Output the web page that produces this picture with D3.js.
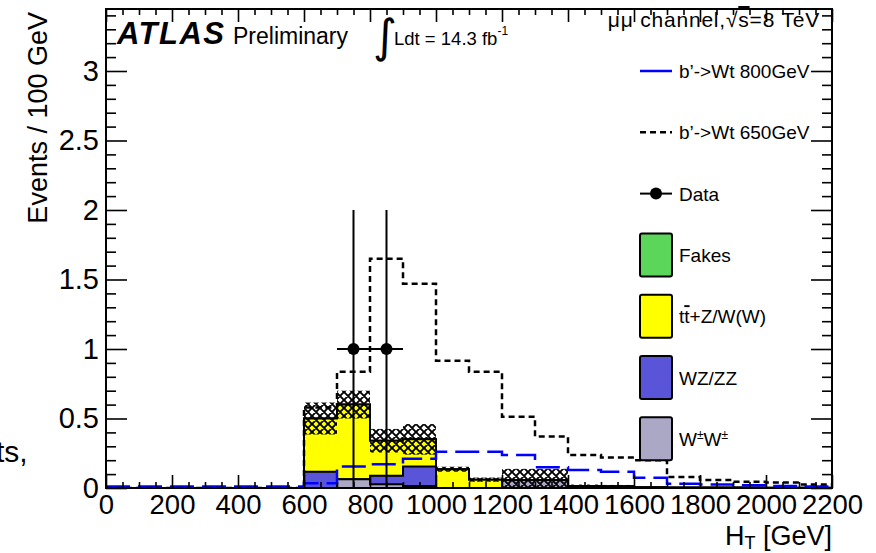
<!DOCTYPE html>
<html>
<head>
<meta charset="utf-8">
<script src="https://cdn.jsdelivr.net/npm/d3@7"></script>
<style>
  html, body { margin: 0; padding: 0; background: #ffffff; }
  svg { display: block; font-family: "Liberation Sans", Arial, Helvetica, sans-serif; }
</style>
</head>
<body>
<svg id="chart" width="876" height="553"></svg>
<script>
// H_T distribution, mu-mu channel: 100 GeV bins from 0 to 2200 GeV
const binLow = [0, 100, 200, 300, 400, 500, 600, 700, 800, 900, 1000,
                1100, 1200, 1300, 1400, 1500, 1600, 1700, 1800, 1900, 2000, 2100];
const binWidth = 100;

// Background components (events / 100 GeV), stacked bottom to top
const wpmwpm = [0, 0, 0, 0, 0, 0, 0, 0.063, 0.027, 0.015, 0,
                0, 0.058, 0.058, 0, 0, 0, 0, 0, 0, 0, 0];
const wzzz   = [0, 0, 0, 0, 0, 0, 0.117, 0, 0.061, 0.14, 0,
                0, 0, 0, 0, 0, 0, 0, 0, 0, 0, 0];
const ttbarV = [0, 0, 0, 0, 0, 0, 0.383, 0.537, 0.252, 0.195, 0.135,
                0.06, 0, 0, 0.015, 0.012, 0.005, 0.004, 0.003, 0.003, 0.002, 0.002];
const fakes  = [0, 0, 0, 0, 0, 0, 0, 0, 0, 0, 0,
                0, 0, 0, 0, 0, 0, 0, 0, 0, 0, 0];
// Total background uncertainty (half width of the band)
const bkgUnc = [0, 0, 0, 0, 0, 0, 0.115, 0.10, 0.085, 0.11, 0.018,
                0.015, 0.08, 0.08, 0.01, 0.01, 0.005, 0.004, 0.003, 0.003, 0.002, 0.002];

// Signal hypotheses
const sig800 = [0.01, 0.01, 0.01, 0.01, 0.01, 0.01, 0.035, 0.155, 0.17, 0.21, 0.26,
                0.26, 0.237, 0.149, 0.13, 0.117, 0.074, 0.03, 0.025, 0.02, 0.015, 0.01];
const sig650 = [0, 0, 0, 0, 0, 0, 0.58, 0.837, 1.65, 1.47, 0.915,
                0.837, 0.513, 0.37, 0.237, 0.22, 0.2, 0.08, 0.058, 0.045, 0.04, 0.025];

// Observed data and its error
const dataObs = [0, 0, 0, 0, 0, 0, 0, 1, 1, 0, 0,
                 0, 0, 0, 0, 0, 0, 0, 0, 0, 0, 0];
const dataErr = [0, 0, 0, 0, 0, 0, 0, 1, 1, 0, 0,
                 0, 0, 0, 0, 0, 0, 0, 0, 0, 0, 0];

const xMajorTicks = [0, 200, 400, 600, 800, 1000, 1200, 1400, 1600, 1800, 2000, 2200];
const yMajorTicks = [0, 0.5, 1, 1.5, 2, 2.5, 3];

const legendLabels = ["b’->Wt 800GeV", "b’->Wt 650GeV", "Data", "Fakes", "tt+Z/W(W)", "WZ/ZZ", "W±W±"];

// ---------------------------------------------------------------
const svg = d3.select("#chart");
const FONT = "'Liberation Sans', Arial, Helvetica, sans-serif";
const plot = { left: 106, right: 832, top: 9, bottom: 488 };

const x = d3.scaleLinear().domain([0, 2200]).range([plot.left, plot.right]);
const y = d3.scaleLinear().domain([0, 3.446]).range([plot.bottom, plot.top]);

const colors = { ww: "#aba8c6", wz: "#5a55d8", tt: "#ffff00", fakes: "#5bd65b" };

// hatch for the background uncertainty band
const defs = svg.append("defs");
const pat = defs.append("pattern").attr("id", "hatch")
  .attr("patternUnits", "userSpaceOnUse").attr("width", 8).attr("height", 8);
pat.append("path").attr("d", "M0,0L8,8M8,0L0,8M-2,6L2,10M6,-2L10,2M-2,2L2,-2M6,10L10,6")
  .attr("stroke", "#000").attr("stroke-width", 1.9).attr("fill", "none");

defs.append("clipPath").attr("id", "plotClip").append("rect")
  .attr("x", plot.left).attr("y", plot.top)
  .attr("width", plot.right - plot.left).attr("height", plot.bottom - plot.top);

// step points for a per-bin array
const stepPts = vals => {
  const pts = binLow.map((b, i) => [b, vals[i]]);
  pts.push([binLow[binLow.length - 1] + binWidth, vals[vals.length - 1]]);
  return pts;
};

// ---- stacked backgrounds
const rows = binLow.map((b, i) => ({ lo: b, ww: wpmwpm[i], wz: wzzz[i], tt: ttbarV[i], fakes: fakes[i] }));
const keys = ["ww", "wz", "tt", "fakes"];
const stacked = d3.stack().keys(keys)(rows);

const gStack = svg.append("g").attr("clip-path", "url(#plotClip)");
const area = d3.area()
  .x(d => x(d[0])).y0(y(0)).y1(d => y(d[1]))
  .curve(d3.curveStepAfter);

// cumulative histograms drawn from the top component down
for (let k = keys.length - 1; k >= 0; k--) {
  const cum = stacked[k].map(d => d[1]);
  if (d3.max(cum) <= 0) continue;
  gStack.append("path")
    .attr("d", area(stepPts(cum)))
    .attr("fill", colors[keys[k]])
    .attr("stroke", "#000").attr("stroke-width", 2)
    .attr("stroke-linejoin", "miter");
}

// ---- uncertainty band
const totals = stacked[keys.length - 1].map(d => d[1]);
gStack.append("g").selectAll("rect")
  .data(binLow.map((b, i) => ({ lo: b, t: totals[i], u: bkgUnc[i] })).filter(d => d.u > 0))
  .join("rect")
  .attr("x", d => x(d.lo))
  .attr("width", d => x(d.lo + binWidth) - x(d.lo))
  .attr("y", d => y(d.t + d.u))
  .attr("height", d => y(Math.max(0, d.t - d.u)) - y(d.t + d.u))
  .attr("fill", "url(#hatch)");

// ---- signal lines
const line = d3.line().x(d => x(d[0])).y(d => y(d[1])).curve(d3.curveStepAfter);
gStack.append("path").attr("d", line(stepPts(sig800)))
  .attr("fill", "none").attr("stroke", "#0000ff").attr("stroke-width", 2.5)
  .attr("stroke-dasharray", "24,8");
gStack.append("path").attr("d", line(stepPts(sig650)))
  .attr("fill", "none").attr("stroke", "#000").attr("stroke-width", 2.5)
  .attr("stroke-dasharray", "6,4");

// ---- data points
const dataPts = binLow.map((b, i) => ({ c: b + binWidth / 2, v: dataObs[i], e: dataErr[i] })).filter(d => d.v > 0);
const gData = svg.append("g");
gData.selectAll("line.v").data(dataPts).join("line").attr("class", "v")
  .attr("x1", d => x(d.c)).attr("x2", d => x(d.c))
  .attr("y1", d => y(d.v + d.e)).attr("y2", d => y(Math.max(0, d.v - d.e)))
  .attr("stroke", "#000").attr("stroke-width", 2);
gData.selectAll("line.h").data(dataPts).join("line").attr("class", "h")
  .attr("x1", d => x(d.c - binWidth / 2)).attr("x2", d => x(d.c + binWidth / 2))
  .attr("y1", d => y(d.v)).attr("y2", d => y(d.v))
  .attr("stroke", "#000").attr("stroke-width", 2);
gData.selectAll("circle").data(dataPts).join("circle")
  .attr("cx", d => x(d.c)).attr("cy", d => y(d.v)).attr("r", 6).attr("fill", "#000");

// ---- axes (ticks inside the frame on all four sides)
const xMinor = d3.range(0, 2201, 50).filter(v => !xMajorTicks.includes(v));
const yMinor = d3.range(0, 35).map(v => +(v / 10).toFixed(1)).filter(v => !yMajorTicks.includes(v));

function styleAxis(g, size) {
  g.select(".domain").remove();
  g.selectAll("line").attr("stroke", "#000").attr("stroke-width", 1.6);
  g.selectAll("text").attr("font-family", FONT).attr("font-size", size).attr("fill", "#000");
}

svg.append("g").attr("transform", `translate(0,${plot.bottom})`)
  .call(d3.axisBottom(x).tickValues(xMajorTicks).tickSize(-13).tickPadding(6).tickFormat(d3.format("d")))
  .call(g => styleAxis(g, 27.5));
svg.append("g").attr("transform", `translate(0,${plot.bottom})`)
  .call(d3.axisBottom(x).tickValues(xMinor).tickSize(-6).tickFormat(""))
  .call(g => styleAxis(g, 27.5));
svg.append("g").attr("transform", `translate(0,${plot.top})`)
  .call(d3.axisTop(x).tickValues(xMajorTicks).tickSize(-13).tickFormat(""))
  .call(g => styleAxis(g, 27.5));
svg.append("g").attr("transform", `translate(0,${plot.top})`)
  .call(d3.axisTop(x).tickValues(xMinor).tickSize(-6).tickFormat(""))
  .call(g => styleAxis(g, 27.5));

svg.append("g").attr("transform", `translate(${plot.left},0)`)
  .call(d3.axisLeft(y).tickValues(yMajorTicks).tickSize(-21).tickPadding(7).tickFormat(d => String(d)))
  .call(g => styleAxis(g, 29));
svg.append("g").attr("transform", `translate(${plot.left},0)`)
  .call(d3.axisLeft(y).tickValues(yMinor).tickSize(-10).tickFormat(""))
  .call(g => styleAxis(g, 29));
svg.append("g").attr("transform", `translate(${plot.right},0)`)
  .call(d3.axisRight(y).tickValues(yMajorTicks).tickSize(-21).tickFormat(""))
  .call(g => styleAxis(g, 29));
svg.append("g").attr("transform", `translate(${plot.right},0)`)
  .call(d3.axisRight(y).tickValues(yMinor).tickSize(-10).tickFormat(""))
  .call(g => styleAxis(g, 29));

// frame
svg.append("rect").attr("x", plot.left).attr("y", plot.top)
  .attr("width", plot.right - plot.left).attr("height", plot.bottom - plot.top)
  .attr("fill", "none").attr("stroke", "#000").attr("stroke-width", 2);

// ---- axis titles
svg.append("text").attr("transform", "translate(47,12) rotate(-90)")
  .attr("text-anchor", "end").attr("font-family", FONT).attr("font-size", 27)
  .text("Events / 100 GeV");

const xTitle = svg.append("text").attr("x", plot.right).attr("y", 545)
  .attr("text-anchor", "end").attr("font-family", FONT).attr("font-size", 27);
xTitle.append("tspan").text("H");
xTitle.append("tspan").attr("font-size", 18).attr("dy", 4).text("T");
xTitle.append("tspan").attr("dy", -4).text(" [GeV]");

// ---- labels in the header
svg.append("text").attr("x", 117).attr("y", 44)
  .attr("font-family", FONT).attr("font-weight", "bold").attr("font-style", "italic")
  .attr("font-size", 31).attr("letter-spacing", 1.5).text("ATLAS");
svg.append("text").attr("x", 233).attr("y", 44)
  .attr("font-family", FONT).attr("font-size", 23).text("Preliminary");

svg.append("text").attr("x", 373).attr("y", 52)
  .attr("font-family", "'DejaVu Sans', sans-serif").attr("font-size", 46).text("∫");
const lumi = svg.append("text").attr("x", 394).attr("y", 45)
  .attr("font-family", FONT).attr("font-size", 18.5);
lumi.append("tspan").text("Ldt = 14.3 fb");
lumi.append("tspan").attr("font-size", 12).attr("dy", -10).text("-1");

const chan = svg.append("text").attr("x", 820).attr("y", 27)
  .attr("text-anchor", "end").attr("font-family", FONT).attr("font-size", 21)
  .attr("letter-spacing", 0.8);
chan.append("tspan").text("μμ channel,√");
chan.append("tspan").style("text-decoration", "overline").text("s");
chan.append("tspan").text("=8 TeV");

// ---- legend
const legX = 640, legW = 32, legTextX = 679, legY0 = 71, legDy = 61.3;
const gLeg = svg.append("g").attr("font-family", FONT).attr("font-size", 19);

legendLabels.forEach((lab, i) => {
  const cy = legY0 + i * legDy;
  if (i === 0) {
    gLeg.append("line").attr("x1", legX).attr("x2", legX + legW).attr("y1", cy).attr("y2", cy)
      .attr("stroke", "#0000ff").attr("stroke-width", 2.5);
  } else if (i === 1) {
    gLeg.append("line").attr("x1", legX).attr("x2", legX + legW).attr("y1", cy).attr("y2", cy)
      .attr("stroke", "#000").attr("stroke-width", 2.5).attr("stroke-dasharray", "6,4");
  } else if (i === 2) {
    gLeg.append("line").attr("x1", legX).attr("x2", legX + legW).attr("y1", cy).attr("y2", cy)
      .attr("stroke", "#000").attr("stroke-width", 2);
    gLeg.append("circle").attr("cx", legX + legW / 2).attr("cy", cy).attr("r", 6).attr("fill", "#000");
  } else {
    const fill = [colors.fakes, colors.tt, colors.wz, colors.ww][i - 3];
    gLeg.append("rect").attr("x", legX).attr("y", cy - 21.5).attr("width", legW).attr("height", 43)
      .attr("rx", 2).attr("fill", fill).attr("stroke", "#000").attr("stroke-width", 2);
  }
  const t = gLeg.append("text").attr("x", legTextX).attr("y", cy + 7);
  if (i === 4) {
    t.append("tspan").text("t");
    t.append("tspan").style("text-decoration", "overline").text("t");
    t.append("tspan").text("+Z/W(W)");
  } else if (i === 6) {
    t.append("tspan").text("W");
    t.append("tspan").attr("font-size", 12).attr("dy", -7).text("±");
    t.append("tspan").attr("dy", 7).text("W");
    t.append("tspan").attr("font-size", 12).attr("dy", -7).text("±");
  } else {
    t.text(lab);
  }
});

// text fragment at the lower left edge
svg.append("text").attr("x", -4).attr("y", 462)
  .attr("font-family", FONT).attr("font-size", 30).text("ts,");
</script>
</body>
</html>
